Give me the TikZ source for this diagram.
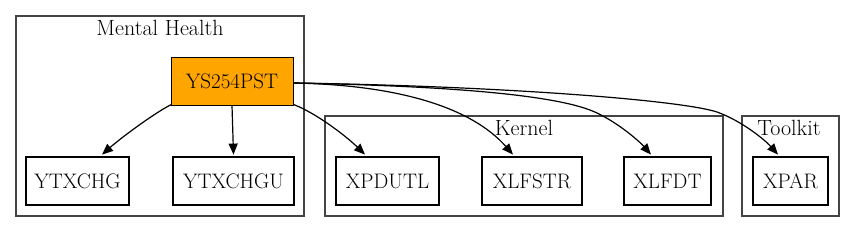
\documentclass[tikz,border=0pt]{standalone}
\usepackage{fontspec}
\usetikzlibrary{arrows.meta}
\definecolor{clusterline}{HTML}{444444}
\definecolor{orangefill}{HTML}{FFA500}
\begin{document}
\begin{tikzpicture}[x=1pt,y=-1pt,
  every node/.style={font=\fontsize{21}{25}\selectfont},
  leaf/.style={draw=black,line width=2.4pt,fill=white,minimum height=48pt,inner sep=0pt},
  hub/.style={draw=black,line width=0.9pt,fill=orangefill,minimum height=48pt,inner sep=0pt},
  cluster/.style={draw=clusterline,line width=1.2pt,inner sep=0pt},
  ctitle/.style={inner sep=0pt,anchor=base,font=\fontsize{22}{26}\selectfont},
  edge/.style={draw=black,line width=1.2pt,-{Triangle[length=11pt,width=9pt]}}]
\useasboundingbox (0,0) rectangle (855,232);
% clusters
\node[cluster,minimum width=288pt,minimum height=200pt] (mh) at (160,116) {};
\node[cluster,minimum width=398pt,minimum height=100pt] (kern) at (524,166) {};
\node[cluster,minimum width=97pt,minimum height=100pt] (tk) at (790.5,166) {};
\node[ctitle] (mhl) at (160,36) {Mental Health};
\node[ctitle] (kernl) at (524,136) {Kernel};
\node[ctitle] (tkl) at (789,136) {Toolkit};
% nodes
\node[hub,minimum width=122pt] (ys) at (232,81) {YS254PST};
\node[leaf,minimum width=103pt] (ytxchg) at (77.5,181) {YTXCHG};
\node[leaf,minimum width=121pt] (ytxchgu) at (233.5,181) {YTXCHGU};
\node[leaf,minimum width=103pt] (xpdutl) at (387.5,181) {XPDUTL};
\node[leaf,minimum width=100pt] (xlfstr) at (532,181) {XLFSTR};
\node[leaf,minimum width=87pt] (xlfdt) at (667.5,181) {XLFDT};
\node[leaf,minimum width=75pt] (xpar) at (790.5,181) {XPAR};
% edges
\draw[edge] ([xshift=1pt,yshift=1pt]ys.south west) .. controls (156,112) and (122,137) .. ([xshift=24.5pt,yshift=1.2pt]ytxchg.north);
\draw[edge] (ys.south) -- ([yshift=1.2pt]ytxchgu.north);
\draw[edge] ([yshift=1pt]ys.south east) .. controls (316,113) and (346,136) .. ([xshift=-22.5pt,yshift=1.2pt]xpdutl.north);
\draw[edge] ([yshift=-2pt]ys.east) .. controls (400,85) and (472,108) .. ([xshift=-19pt,yshift=1.2pt]xlfstr.north);
\draw[edge] ([yshift=-2pt]ys.east) .. controls (450,86) and (560,95) .. (597,113) .. controls (620,124) and (640,142) .. ([xshift=-16.5pt,yshift=1.2pt]xlfdt.north);
\draw[edge] ([yshift=-2pt]ys.east) .. controls (500,86) and (680,100) .. (717,112) .. controls (742,121) and (765,140) .. ([xshift=-12.5pt,yshift=1.2pt]xpar.north);
\end{tikzpicture}
\end{document}
